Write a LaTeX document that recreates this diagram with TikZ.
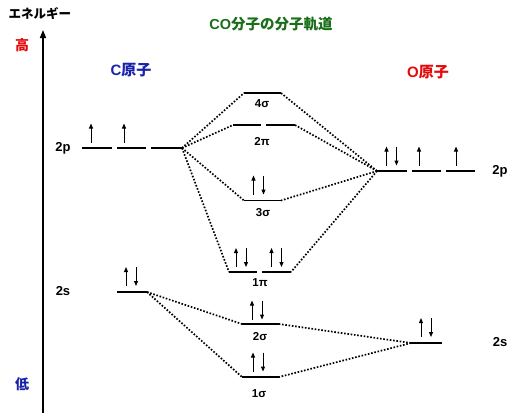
\documentclass[tikz,border=0pt]{standalone}
\usepackage{fontspec}
\setmainfont{Liberation Sans}
\newfontfamily\jp{Noto Sans CJK JP}
\usetikzlibrary{arrows.meta}
\definecolor{ttlgreen}{RGB}{25,110,25}
\definecolor{cblue}{RGB}{25,35,170}
\definecolor{ored}{RGB}{230,10,10}
\tikzset{
  lvl/.style={line width=1.6pt},
  mo/.style={lvl},
  corr/.style={line width=1.7pt, dash pattern=on 1.6pt off 1.7pt},
  earrow/.style={line width=1pt, -{Triangle[length=5pt,width=4pt]}},
  upe/.pic={\draw[earrow] (0,9.5) -- (0,-9.5);},
  dne/.pic={\draw[earrow] (0,-9.5) -- (0,9.5);},
  pair/.pic={\draw[earrow] (-5,9.5) -- (-5,-9.5); \draw[earrow] (5,-9.5) -- (5,9.5);},
  lab/.style={font=\bfseries\fontsize{13}{15}\selectfont},
  molab/.style={font=\bfseries\fontsize{11.5}{13}\selectfont},
}
\begin{document}
\begin{tikzpicture}[x=1pt,y=-1pt]
\useasboundingbox (0,0) rectangle (516,416);
\fill[white] (0,0) rectangle (516,416);

% energy axis
\coordinate (axb) at (43,413);
\coordinate (axt) at (43,30);
\draw[line width=1.5pt,-{Triangle[length=8pt,width=6pt]}] (axb) -- (axt);
\node[font=\jp\bfseries\fontsize{12.5}{14}\selectfont] (en) at (40,14) {エネルギー};
\node[font=\jp\bfseries\fontsize{14}{16}\selectfont, text=ored] (hi) at (22,45) {高};
\node[font=\jp\bfseries\fontsize{14}{16}\selectfont, text=cblue] (lo) at (22,384) {低};

% titles
\node[font=\bfseries\fontsize{14.5}{17}\selectfont, text=ttlgreen] (title) at (271,24) {CO{\jp 分子の分子軌道}};
\node[font=\bfseries\fontsize{15}{17}\selectfont, text=cblue] (catom) at (131,70) {C{\jp 原子}};
\node[font=\bfseries\fontsize{15}{17}\selectfont, text=ored] (oatom) at (428,72) {O{\jp 原子}};

% C 2p levels
\coordinate (c2pa1) at (82,148); \coordinate (c2pa2) at (112,148);
\coordinate (c2pb1) at (117,148); \coordinate (c2pb2) at (146,148);
\coordinate (c2pc1) at (151,148); \coordinate (c2pR) at (182,148);
\draw[lvl] (c2pa1) -- (c2pa2); \draw[lvl] (c2pb1) -- (c2pb2); \draw[lvl] (c2pc1) -- (c2pR);
\node[lab] (l2pc) at (63,148) {2p};
\pic at (91,133) {upe};
\pic at (124,133) {upe};

% C 2s
\coordinate (c2sL) at (117,292); \coordinate (c2sR) at (147,292);
\draw[lvl] (c2sL) -- (c2sR);
\node[lab] (l2sc) at (63,291) {2s};
\pic at (131,276.5) {pair};

% O 2p
\coordinate (o2pL) at (377,171); \coordinate (o2pa2) at (407,171);
\coordinate (o2pb1) at (412,171); \coordinate (o2pb2) at (441,171);
\coordinate (o2pc1) at (446,171); \coordinate (o2pc2) at (475,171);
\draw[lvl] (o2pL) -- (o2pa2); \draw[lvl] (o2pb1) -- (o2pb2); \draw[lvl] (o2pc1) -- (o2pc2);
\node[lab] (l2po) at (500,171) {2p};
\pic at (391.5,156) {pair};
\pic at (419,156) {upe};
\pic at (456,156) {upe};

% O 2s
\coordinate (o2sL) at (411,343); \coordinate (o2sR) at (442,343);
\draw[lvl] (o2sL) -- (o2sR);
\node[lab] (l2so) at (500,342) {2s};
\pic at (426,327.5) {pair};

% MOs
\coordinate (s4L) at (244,93); \coordinate (s4R) at (281,93);
\draw[mo] (s4L) -- (s4R);
\node[molab] (l4s) at (262,104) {4σ};

\coordinate (p2L) at (233,125); \coordinate (p2a) at (261,125);
\coordinate (p2b) at (266,125); \coordinate (p2R) at (295,125);
\draw[mo] (p2L) -- (p2a); \draw[mo] (p2b) -- (p2R);
\node[molab] (l2p) at (262,142) {2π};

\coordinate (s3L) at (244,200.5); \coordinate (s3R) at (281,200.5);
\draw[mo] (s3L) -- (s3R);
\node[molab] (l3s) at (263,213) {3σ};
\pic at (258.5,185) {pair};

\coordinate (p1L) at (229,272); \coordinate (p1a) at (257,272);
\coordinate (p1b) at (262,272); \coordinate (p1R) at (291,272);
\draw[mo] (p1L) -- (p1a); \draw[mo] (p1b) -- (p1R);
\node[molab] (l1p) at (260,283) {1π};
\pic at (241,257.5) {pair};
\pic at (276.5,257.5) {pair};

\coordinate (s2L) at (242,324); \coordinate (s2R) at (279,324);
\draw[mo] (s2L) -- (s2R);
\node[molab] (l2s) at (260,337) {2σ};
\pic at (257,310) {pair};

\coordinate (s1L) at (242,377); \coordinate (s1R) at (279,377);
\draw[mo] (s1L) -- (s1R);
\node[molab] (l1s) at (259,394) {1σ};
\pic at (258,362) {pair};

% correlation lines
\draw[corr] (c2pR) -- (s4L);
\draw[corr] (c2pR) -- (p2L);
\draw[corr] (c2pR) -- (s3L);
\draw[corr] (c2pR) -- (p1L);
\draw[corr] (o2pL) -- (s4R);
\draw[corr] (o2pL) -- (p2R);
\draw[corr] (o2pL) -- (s3R);
\draw[corr] (o2pL) -- (p1R);
\draw[corr] (c2sR) -- (s2L);
\draw[corr] (c2sR) -- (s1L);
\draw[corr] (o2sL) -- (s2R);
\draw[corr] (o2sL) -- (s1R);
\end{tikzpicture}
\end{document}
